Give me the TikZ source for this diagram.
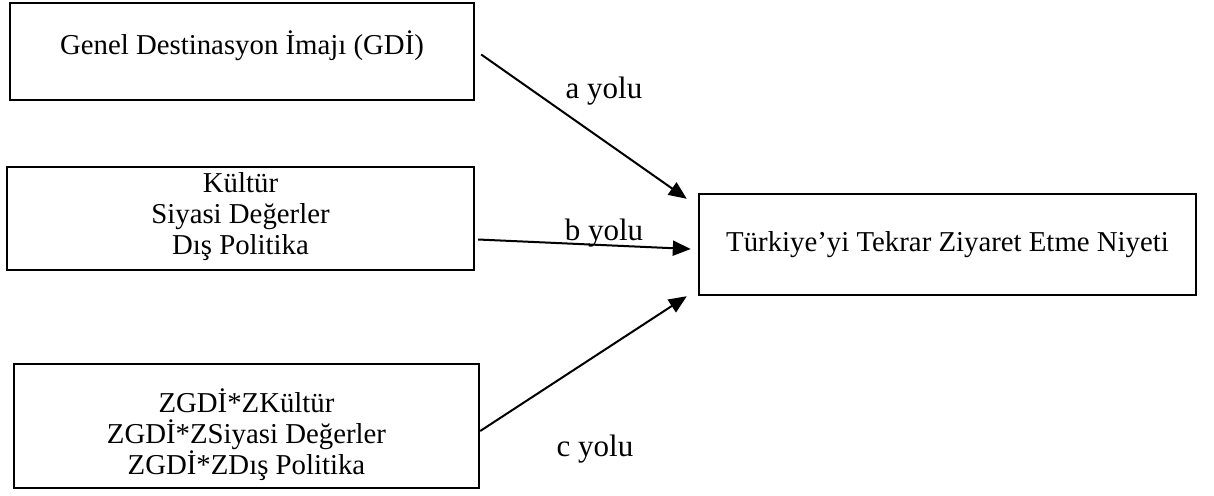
\documentclass[tikz,border=0pt]{standalone}
\usepackage{fontspec}
\setmainfont{Liberation Serif}
\usetikzlibrary{arrows.meta}

\begin{document}
\begin{tikzpicture}[x=.5pt,y=-.5pt,>={Triangle[length=9pt,width=7.5pt]},
  kutu/.style={draw,line width=1.2pt,inner sep=0pt},
  yazi/.style={align=center,font=\fontsize{14.4}{15.5}\selectfont},
  yolyazi/.style={font=\fontsize{15.5}{16}\selectfont},
  yol/.style={->,line width=1pt}]
\useasboundingbox (0,0) rectangle (1214,495);
\node[kutu,minimum width=232pt,minimum height=48.5pt,label={[yazi,yshift=3pt]center:Genel Destinasyon İmajı (GDİ)}] (gdi) at (242,51.5){};
\node[kutu,minimum width=233.5pt,minimum height=51.5pt,label={[yazi,yshift=1pt]center:Kültür\\Siyasi Değerler\\Dış Politika}] (kdp) at (240.5,218.5){};
\node[kutu,minimum width=232.5pt,minimum height=62pt,label={[yazi,yshift=-4.5pt]center:ZGDİ*ZKültür\\ZGDİ*ZSiyasi Değerler\\ZGDİ*ZDış Politika}] (zetk) at (246.5,426){};
\node[kutu,yazi,minimum width=248.5pt,minimum height=50.5pt] (niyet) at (947.5,244.5){Türkiye’yi Tekrar Ziyaret Etme Niyeti};
\node[yolyazi] (ayolu) at (604,91){a yolu};\node[yolyazi] (byolu) at (604,233){b yolu};\node[yolyazi] (cyolu) at (595,449){c yolu};
\draw[yol]([shift={(6,3)}]gdi.east)--([shift={(-11,6)}]niyet.north west);
\draw[yol]([shift={(3,21)}]kdp.east)--([shift={(-7,4.5)}]niyet.west);
\draw[yol]([shift={(0,5)}]zetk.east)--([shift={(-11,0)}]niyet.south west);
\end{tikzpicture}
\end{document}
